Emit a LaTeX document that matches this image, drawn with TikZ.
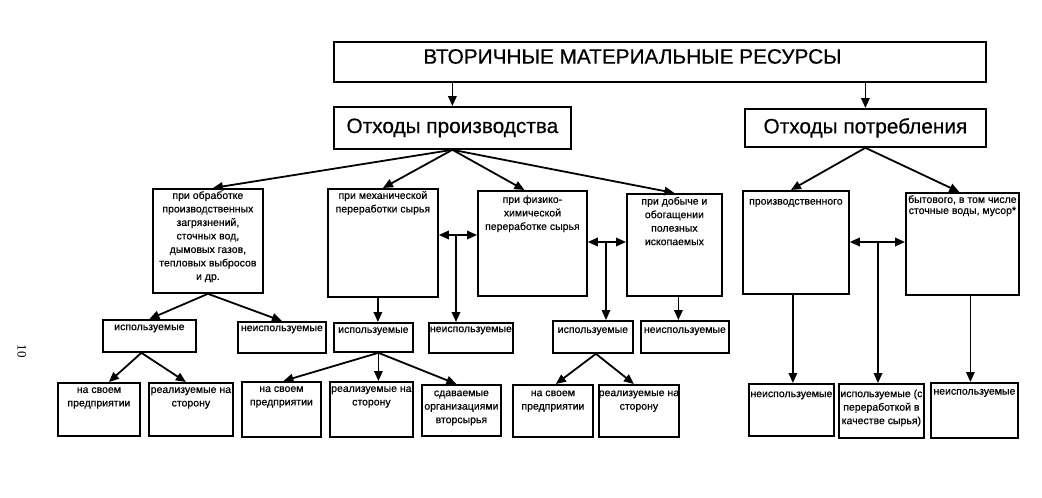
\documentclass[tikz,border=0pt]{standalone}
\usepackage{fontspec}
\setmainfont{Liberation Sans}[FakeBold=0.5]
\newfontfamily\pgnumfont{Liberation Serif}
\usetikzlibrary{arrows.meta,calc}
\newcommand{\fstline}{\rule{0pt}{9.45pt}}
\begin{document}
\begin{tikzpicture}[x=1pt,y=-1pt,
  box/.style={draw, line width=1.8pt, inner sep=0pt, anchor=north west},
  head/.style={box, font=\fontsize{20.8}{24}\selectfont},
  txt/.style={inner sep=0pt, anchor=north, align=center, font=\fontsize{10.5}{13.5}\selectfont},
  tighttxt/.style={txt, font=\fontsize{10.5}{11}\selectfont},
  arr/.style={line width=1.8pt, -{Triangle[length=10pt,width=8.5pt]}},
  barr/.style={line width=1.8pt, {Triangle[length=10pt,width=8.5pt]}-{Triangle[length=10pt,width=8.5pt]}},
]
\useasboundingbox (0,0) rectangle (1042,498);
\fill[white] (0,0) rectangle (1042,498);

% level 0
\node[box, minimum width=652, minimum height=40] (top) at (333,41) {};
\node[inner sep=0pt, font=\fontsize{20.8}{24}\selectfont] (toptxt) at (632.5,56.5) {ВТОРИЧНЫЕ МАТЕРИАЛЬНЫЕ РЕСУРСЫ};

% level 1
\node[head, minimum width=237, minimum height=42] (prod) at (333,106) {Отходы производства};
\node[head, minimum width=241, minimum height=38] (cons) at (744,108) {Отходы потребления};

% level 2
\node[box, minimum width=110, minimum height=104] (b1) at (152,188) {};
\node[box, minimum width=110, minimum height=108] (b2) at (327,188) {};
\node[box, minimum width=109, minimum height=105] (b3) at (477,190) {};
\node[box, minimum width=95, minimum height=102] (b4) at (626,193) {};
\node[box, minimum width=106, minimum height=103] (b5) at (742,190) {};
\node[box, minimum width=113, minimum height=102] (b6) at (905,192) {};

\node[txt] (t1) at ([yshift=-1.3]b1.north) {\fstline при обработке\\производственных\\загрязнений,\\сточных вод,\\дымовых газов,\\тепловых выбросов\\и др.};
\node[txt] (t2) at ([yshift=-1.3]b2.north) {\fstline при механической\\переработки сырья};
\node[txt] (t3) at ([yshift=-3.3]b3.north) {\fstline при физико-\\химической\\переработке сырья};
\node[txt] (t4) at ([yshift=-2]b4.north) {\fstline при добыче и\\обогащении\\полезных\\ископаемых};
\node[txt] (t5) at ([yshift=-5]b5.north) {\fstline производственного};
\node[tighttxt] (t6) at ([yshift=-1.3]b6.north) {\fstline бытового, в том числе\\сточные воды, мусор*};

% level 3
\node[box, minimum width=93, minimum height=32] (u1) at (102,319) {};
\node[box, minimum width=88, minimum height=31] (n1) at (237,321) {};
\node[box, minimum width=79, minimum height=29] (u2) at (333,322) {};
\node[box, minimum width=84, minimum height=30] (n2) at (428,322) {};
\node[box, minimum width=80, minimum height=32] (u3) at (552,320) {};
\node[box, minimum width=88, minimum height=32] (n3) at (640,320) {};

\node[txt] (tu1) at ([yshift=-1.5]u1.north) {\fstline используемые};
\node[txt] (tn1) at ([yshift=-0.5]n1.north) {\fstline неиспользуемые};
\node[txt] (tu2) at ([yshift=-1.3]u2.north) {\fstline используемые};
\node[txt] (tn2) at ([yshift=-0.5]n2.north) {\fstline неиспользуемые};
\node[txt] (tu3) at ([yshift=-3.3]u3.north) {\fstline используемые};
\node[txt] (tn3) at ([yshift=-3.3]n3.north) {\fstline неиспользуемые};

% level 4
\node[box, minimum width=82, minimum height=53] (s1) at (57,382) {};
\node[box, minimum width=84, minimum height=53] (r1) at (148,382) {};
\node[box, minimum width=79, minimum height=55] (s2) at (241,381) {};
\node[box, minimum width=83, minimum height=55] (r2) at (329,381) {};
\node[box, minimum width=79, minimum height=51] (v2) at (421,384) {};
\node[box, minimum width=80, minimum height=52] (s3) at (512,384) {};
\node[box, minimum width=80, minimum height=52] (r3) at (598,384) {};
\node[box, minimum width=85, minimum height=52] (c1) at (748,383) {};
\node[box, minimum width=85, minimum height=54] (c2) at (838,383) {};
\node[box, minimum width=87, minimum height=55] (c3) at (930,382) {};

\node[txt] (ts1) at ([yshift=-1.3]s1.north) {\fstline на своем\\предприятии};
\node[txt] (tr1) at ([yshift=-1.3]r1.north) {\fstline реализуемые на\\сторону};
\node[txt] (ts2) at ([yshift=-1.3]s2.north) {\fstline на своем\\предприятии};
\node[txt] (tr2) at ([yshift=-1.3]r2.north) {\fstline реализуемые на\\сторону};
\node[txt] (tv2) at ([yshift=-2.5]v2.north) {\fstline сдаваемые\\организациями\\вторсырья};
\node[txt] (ts3) at ([yshift=-2.5]s3.north) {\fstline на своем\\предприятии};
\node[txt] (tr3) at ([yshift=-2.5]r3.north) {\fstline реализуемые на\\сторону};
\node[txt] (tc1) at ([yshift=-4.5]c1.north) {\fstline неиспользуемые};
\node[txt] (tc2) at ([yshift=-4.5]c2.north) {\fstline используемые (с\\переработкой в\\качестве сырья)};
\node[txt] (tc3) at ([yshift=-3]c3.north) {\fstline неиспользуемые};

% page number
\node[rotate=-90, inner sep=0pt, font=\pgnumfont\fontsize{13}{13}\selectfont] (pg) at (22,351) {10};

% connectors level 0 -> 1
\draw[arr] (top.south -| prod.north) -- (prod.north);
\draw[arr] (top.south -| cons.north) -- (cons.north);

% level 1 -> 2
\draw[arr] (prod.south) -- ([xshift=5]b1.north);
\draw[arr] (prod.south) -- (b2.north);
\draw[arr] (prod.south) -- ([xshift=-8]b3.north);
\draw[arr] (prod.south) -- (b4.north);
\draw[arr] (cons.south) -- ([xshift=-5]b5.north);
\draw[arr] (cons.south) -- ([xshift=-3]b6.north);

% group 1
\draw[arr] (b1.south) -- (u1.north);
\draw[arr] (b1.south) -- (n1.north);
\coordinate (k1) at ([xshift=-8]u1.south);
\draw[arr] (k1) -- ([xshift=10]s1.north);
\draw[arr] (k1) -- ([xshift=-5]r1.north);

% group 2
\coordinate (k2) at ([xshift=-5]b2.south);
\draw[arr] (k2) -- (k2 |- u2.north);
\coordinate (j1) at (456,235);
\draw[barr] (b2.east |- j1) -- (b3.west |- j1);
\draw[arr] (j1) -- (j1 |- n2.north);
\coordinate (m2) at ([xshift=5]u2.south);
\draw[arr] (m2) -- ([xshift=2]s2.north);
\draw[arr] (m2) -- (m2 |- r2.north);
\draw[arr] (m2) -- ([xshift=-5]v2.north);

% group 3
\coordinate (j2) at (606,242);
\draw[barr] (b3.east |- j2) -- (b4.west |- j2);
\draw[arr] (j2) -- (j2 |- u3.north);
\coordinate (k4) at ([xshift=4]b4.south);
\draw[arr] (k4) -- (k4 |- n3.north);
\coordinate (m3) at ([xshift=3]u3.south);
\draw[arr] (m3) -- ([xshift=3]s3.north);
\draw[arr] (m3) -- ([xshift=-5]r3.north);

% consumption group
\coordinate (j3) at (878,242);
\draw[barr] (b5.east |- j3) -- (b6.west |- j3);
\draw[arr] (j3) -- (j3 |- c2.north);
\coordinate (k5) at ([xshift=-3]b5.south);
\draw[arr] (k5) -- (k5 |- c1.north);
\coordinate (k6) at ([xshift=8]b6.south);
\draw[arr] (k6) -- (k6 |- c3.north);
\end{tikzpicture}
\end{document}
